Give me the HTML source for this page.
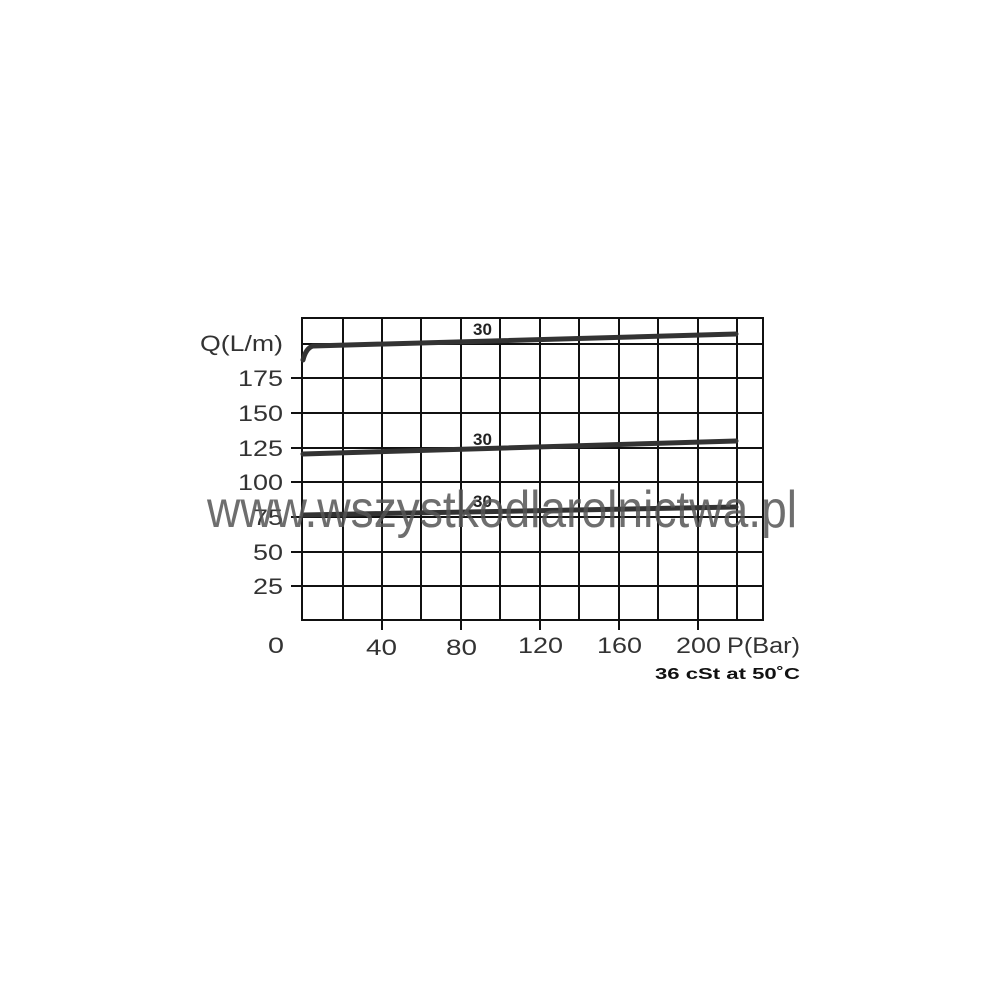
<!DOCTYPE html>
<html><head><meta charset="utf-8"><style>html,body{margin:0;padding:0;background:#fff}</style></head>
<body>
<svg width="1000" height="1000" viewBox="0 0 1000 1000" xmlns="http://www.w3.org/2000/svg" font-family="Liberation Sans, sans-serif">
<rect width="1000" height="1000" fill="#fff"/>
<g stroke="#111" stroke-width="2" fill="none">
<rect x="302" y="318" width="461" height="302"/>
<path d="M343 318V620M382 318V630M421 318V620M461 318V630M500 318V620M540 318V630M579 318V620M619 318V630M658 318V620M698 318V630M737 318V620"/>
<path d="M302 344H763M291 378H763M291 413H763M291 448H763M291 482H763M291 517H763M291 552H763M291 586H763"/>
</g>
<g stroke="#333" stroke-width="5" fill="none" stroke-linecap="round">
<path d="M303 360 Q306 348 313 346 L736 334"/>
<path d="M303 454 L736 441"/>
<path d="M303 515 L736 507"/>
</g>
<g fill="#333" font-size="22">
<text x="200" y="351" textLength="83" lengthAdjust="spacingAndGlyphs">Q(L/m)</text>
<text x="238" y="386" textLength="45" lengthAdjust="spacingAndGlyphs">175</text>
<text x="238" y="421" textLength="45" lengthAdjust="spacingAndGlyphs">150</text>
<text x="238" y="456" textLength="45" lengthAdjust="spacingAndGlyphs">125</text>
<text x="238" y="490" textLength="45" lengthAdjust="spacingAndGlyphs">100</text>
<text x="253" y="525" textLength="30" lengthAdjust="spacingAndGlyphs">75</text>
<text x="253" y="560" textLength="30" lengthAdjust="spacingAndGlyphs">50</text>
<text x="253" y="594" textLength="30" lengthAdjust="spacingAndGlyphs">25</text>
<text x="268" y="653" textLength="16" lengthAdjust="spacingAndGlyphs">0</text>
<text x="366" y="655" textLength="31" lengthAdjust="spacingAndGlyphs">40</text>
<text x="446" y="655" textLength="31" lengthAdjust="spacingAndGlyphs">80</text>
<text x="518" y="653" textLength="45" lengthAdjust="spacingAndGlyphs">120</text>
<text x="597" y="653" textLength="45" lengthAdjust="spacingAndGlyphs">160</text>
<text x="676" y="653" textLength="45" lengthAdjust="spacingAndGlyphs">200</text>
<text x="727" y="653" textLength="73" lengthAdjust="spacingAndGlyphs">P(Bar)</text>
</g>
<text x="655" y="679" fill="#111" font-size="16" font-weight="bold" textLength="145" lengthAdjust="spacingAndGlyphs">36 cSt at 50˚C</text>
<g fill="#222" font-size="17" font-weight="bold">
<text x="473" y="335">30</text>
<text x="473" y="445">30</text>
<text x="473" y="507">30</text>
</g>
<text x="207" y="527" fill="#555" fill-opacity="0.85" font-size="52" textLength="590" lengthAdjust="spacingAndGlyphs">www.wszystkodlarolnictwa.pl</text>
</svg>
</body></html>
